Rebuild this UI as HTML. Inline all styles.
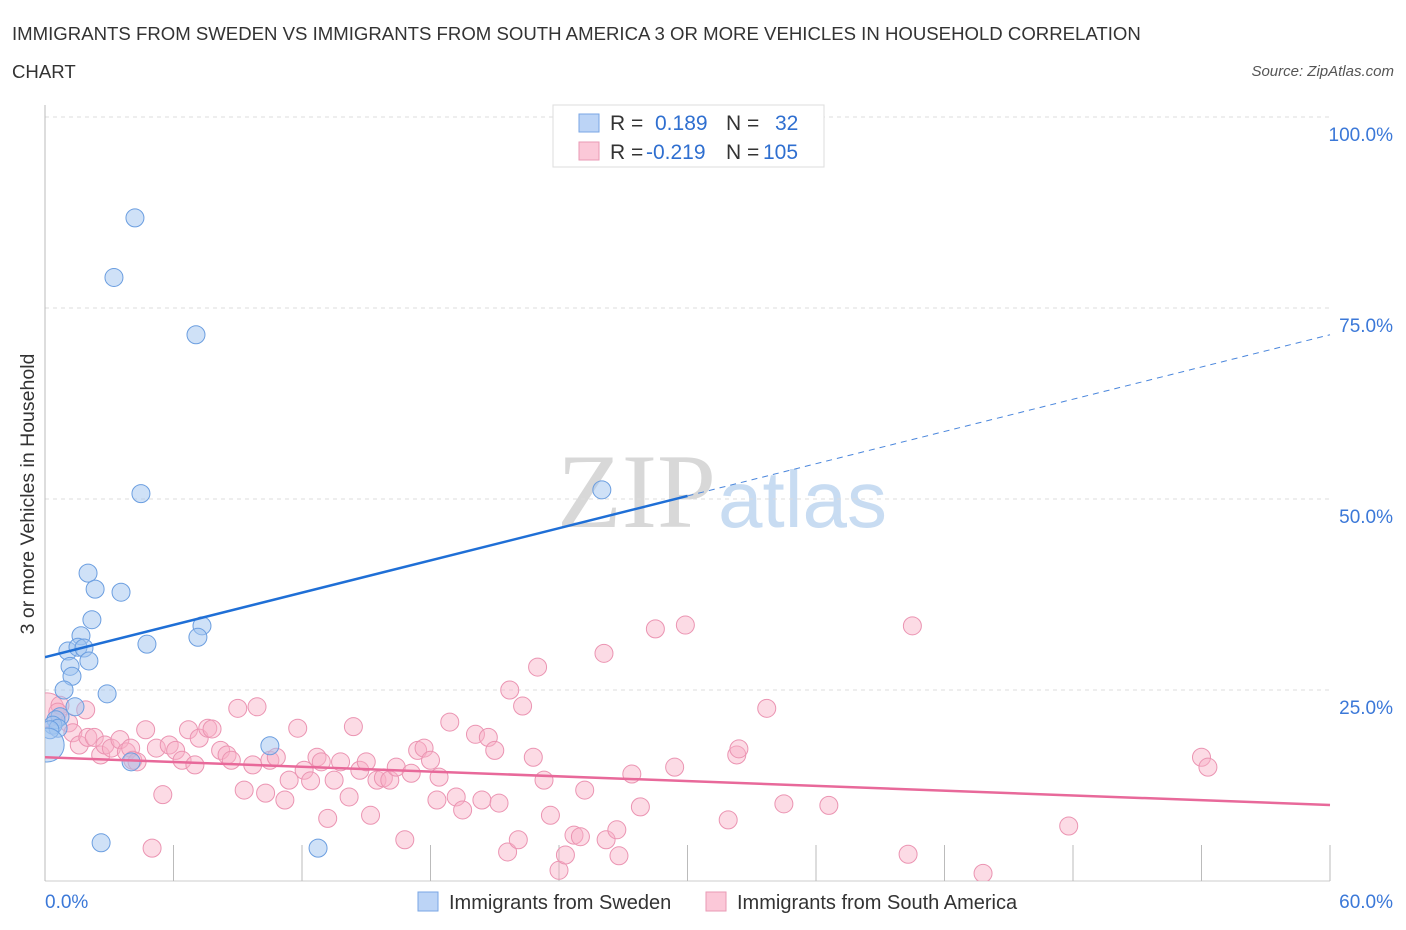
<!DOCTYPE html>
<html><head><meta charset="utf-8"><style>
body{margin:0;background:#fff;font-family:"Liberation Sans",sans-serif;}
#wrap{position:relative;width:1406px;height:930px;overflow:hidden;}
</style></head><body>
<div id="wrap">
<svg id="svg" width="1406" height="930" xmlns="http://www.w3.org/2000/svg" font-family="Liberation Sans, sans-serif">
<defs><clipPath id="plotclip"><rect x="45" y="100" width="1300" height="781"/></clipPath></defs>
<text x="12" y="40" font-size="18.6" fill="#333">IMMIGRANTS FROM SWEDEN VS IMMIGRANTS FROM SOUTH AMERICA 3 OR MORE VEHICLES IN HOUSEHOLD CORRELATION</text>
<text x="12" y="78" font-size="18.6" fill="#333">CHART</text>
<text x="1394" y="76" font-size="15" fill="#555" font-style="italic" text-anchor="end">Source: ZipAtlas.com</text>
<text x="716" y="527" font-size="106" text-anchor="end" fill="#d8d8d8" font-family="Liberation Serif, serif">ZIP</text>
<text x="718" y="527" font-size="80" fill="#c8dcf2">atlas</text>
<g id="grid"></g>
<g id="marks" clip-path="url(#plotclip)"></g>
<text transform="translate(34,494) rotate(-90)" font-size="19.5" fill="#333" text-anchor="middle">3 or more Vehicles in Household</text>
<text x="45" y="908" font-size="19" fill="#3b78d8" text-anchor="start">0.0%</text>
<text x="1393" y="908" font-size="19" fill="#3b78d8" text-anchor="end">60.0%</text>
<g>
<rect x="553" y="105" width="271" height="62" fill="#fff" stroke="#ddd"/>
<rect x="579" y="114" width="20" height="18" fill="#bcd4f6" stroke="#7aa6e4"/>
<rect x="579" y="142" width="20" height="18" fill="#fbc8d8" stroke="#ea9ab5"/>
<text x="610" y="130" font-size="21" fill="#333">R = </text><text x="655" y="130" font-size="21" fill="#2f6fd0">0.189</text>
<text x="726" y="130" font-size="21" fill="#333">N = </text><text x="775" y="130" font-size="21" fill="#2f6fd0">32</text>
<text x="610" y="159" font-size="21" fill="#333">R = </text><text x="646" y="159" font-size="21" fill="#2f6fd0">-0.219</text>
<text x="726" y="159" font-size="21" fill="#333">N = </text><text x="763" y="159" font-size="21" fill="#2f6fd0">105</text>
</g>
<g>
<rect x="418" y="892" width="20" height="19" fill="#bcd4f6" stroke="#7aa6e4"/>
<text x="449" y="909" font-size="20" fill="#333">Immigrants from Sweden</text></g>
<g>
<rect x="706" y="892" width="20" height="19" fill="#fbc8d8" stroke="#ea9ab5"/>
<text x="737" y="909" font-size="20" fill="#333">Immigrants from South America</text></g>
</svg>
</div>
<script>
const yTicks=[25,50,75,100];
const yTickLabels=["25.0%","50.0%","75.0%","100.0%"];
const xTicks=[0,6,12,18,24,30,36,42,48,54,60];
const blueX=[4.2,3.22,7.05,4.48,26.0,2.01,2.34,3.55,2.19,1.68,7.33,1.07,1.54,1.82,4.76,7.14,1.17,2.05,1.26,0.89,2.9,1.4,0.7,0.51,0.37,0.61,10.5,4.02,2.62,12.75,0.23,0.1];
const blueY=[86.8,79.0,71.5,50.7,51.2,40.3,38.2,37.8,34.2,32.1,33.4,30.1,30.6,30.5,31.0,31.9,28.1,28.8,26.8,25.0,24.5,22.8,21.5,21.1,20.4,20.0,17.7,15.6,5.0,4.3,19.8,17.8];
const pinkX=[0.1,0.7,1.1,1.9,0.6,1.3,1.6,2.0,2.3,2.6,2.8,3.1,3.5,3.8,4.0,4.1,4.3,4.7,5.0,5.2,5.5,5.8,6.1,6.4,6.7,7.0,7.2,7.6,7.8,8.2,8.5,8.7,9.0,9.3,9.7,9.9,10.3,10.5,10.8,11.2,11.4,11.8,12.1,12.4,12.7,12.9,13.2,13.5,13.8,14.2,14.4,14.7,15.0,15.2,15.5,15.8,16.1,16.4,16.8,17.1,17.4,17.7,18.0,18.3,18.4,18.9,19.2,19.5,20.1,20.4,20.7,21.0,21.2,21.6,21.7,22.1,22.3,22.8,23.0,23.3,23.6,24.0,24.3,24.7,25.0,25.2,26.1,26.2,26.7,26.8,27.4,27.8,28.5,29.4,29.9,31.9,32.3,32.4,33.7,34.5,36.6,40.3,40.5,43.8,47.8,54.0,54.3];
const pinkY=[22.4,23.0,20.7,22.4,22.1,19.4,17.8,18.8,18.8,16.5,17.8,17.4,18.5,16.9,17.4,15.8,15.6,19.8,4.3,17.4,11.3,17.8,17.1,15.8,19.8,15.2,18.7,20.0,19.9,17.1,16.5,15.8,22.6,11.9,15.2,22.8,11.5,15.8,16.2,10.6,13.2,20.0,14.5,13.1,16.2,15.6,8.2,13.2,15.6,11.0,20.2,14.5,15.6,8.6,13.2,13.5,13.2,14.9,5.4,14.1,17.1,17.4,15.8,10.6,13.6,20.8,11.0,9.3,19.2,10.6,18.8,17.1,10.2,3.8,25.0,5.4,22.9,16.2,28.0,13.2,8.6,1.4,3.4,6.0,5.8,11.9,29.8,5.4,6.7,3.3,14.0,9.7,33.0,14.9,33.5,8.0,16.5,17.3,22.6,10.1,9.9,3.5,33.4,1.0,7.2,16.2,14.9];
const blueTrend=[29.3,71.5];
const pinkTrend=[16.2,9.95];
const X0=45,X1=1330,Y0=881,Y100=117;
const sx=v=>X0+(X1-X0)*v/60;
const sy=v=>Y0-(Y0-Y100)*v/100;
const NS="http://www.w3.org/2000/svg";
function mk(p,t,a){const e=document.createElementNS(NS,t);for(const k in a)e.setAttribute(k,a[k]);p.appendChild(e);return e;}
const grid=document.getElementById('grid'),marks=document.getElementById('marks');
yTicks.forEach((t,i)=>{
 const l=mk(grid,'line',{x1:X0,x2:X1,y1:sy(t),y2:sy(t),stroke:'#ddd','stroke-dasharray':'4 4'});
 
 
 const tx=mk(grid,'text',{x:1393,y:sy(t)+24,'font-size':19,fill:'#3b78d8','text-anchor':'end'});
 tx.textContent=yTickLabels[i];
 
 
});
const ax=mk(grid,'line',{x1:X0,x2:X0,y1:105,y2:Y0,stroke:'#bbb'});


const bx=mk(grid,'line',{x1:X0,x2:X1,y1:Y0,y2:Y0,stroke:'#ccc'});


xTicks.forEach(t=>{
 const l=mk(grid,'line',{x1:sx(t),x2:sx(t),y1:845,y2:Y0,stroke:'#bbb'});
 
 
});
pinkX.forEach((v,i)=>{
 const c=mk(marks,'circle',{cx:sx(v),cy:sy(pinkY[i]),r:(i==0?17:9),fill:'rgba(248,176,198,0.45)',stroke:'#eb94b2','stroke-width':1});
 
 
});
blueX.forEach((v,i)=>{
 const c=mk(marks,'circle',{cx:sx(v),cy:sy(blueY[i]),r:(i==blueX.length-1?17:9),fill:'rgba(160,196,240,0.5)',stroke:'#6b9ee0','stroke-width':1});
 
 
});
const byAt=x=>blueTrend[0]+(blueTrend[1]-blueTrend[0])*x/60;
const bl=mk(marks,'line',{x1:sx(0),y1:sy(byAt(0)),x2:sx(30),y2:sy(byAt(30)),stroke:'#1f6fd6','stroke-width':2.5});


const bd=mk(marks,'line',{x1:sx(30),y1:sy(byAt(30)),x2:sx(60),y2:sy(byAt(60)),stroke:'#4a86dc','stroke-width':1,'stroke-dasharray':'6 5'});


const pl=mk(marks,'line',{x1:sx(0),y1:sy(pinkTrend[0]),x2:sx(60),y2:sy(pinkTrend[1]),stroke:'#e8699a','stroke-width':2.5});


</script>
</body></html>
